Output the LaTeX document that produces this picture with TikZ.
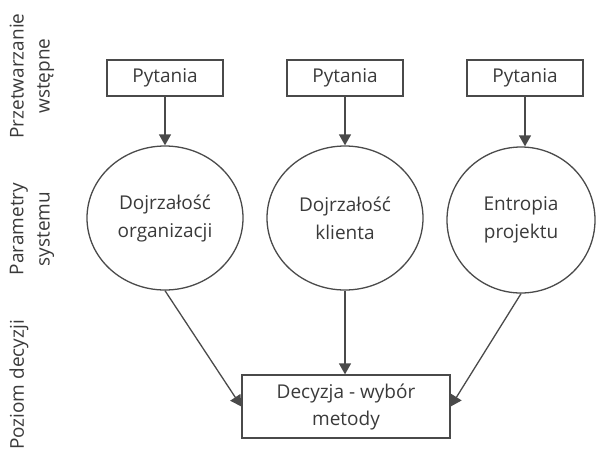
\documentclass[tikz,border=0pt]{standalone}
\usepackage{fontspec}
\setmainfont{Open Sans}
\usetikzlibrary{arrows.meta,shapes.geometric}
\definecolor{inkline}{HTML}{4A4A4A}
\definecolor{inktext}{HTML}{3A3A3A}
\tikzset{
  qbox/.style={draw=inkline, line width=1.3pt, minimum width=116pt, minimum height=36pt,
    inner sep=0pt, text=inktext, font=\fontsize{19}{24}\selectfont},
  param/.style={draw=inkline, line width=1.3pt, ellipse, minimum width=156pt, minimum height=144pt,
    inner sep=0pt, align=center, text=inktext, font=\fontsize{19}{28}\selectfont},
  decbox/.style={draw=inkline, line width=1.3pt, minimum width=208pt, minimum height=63pt,
    inner sep=0pt, align=center, text=inktext, font=\fontsize{19}{27}\selectfont},
  level/.style={rotate=90, align=center, text=inktext, inner sep=0pt, font=\fontsize{19}{26}\selectfont},
  flow/.style={draw=inkline, line width=1.3pt, -{Triangle[width=12pt,length=11pt]}}
}
\begin{document}
\begin{tikzpicture}[x=1pt, y=-1pt]
\useasboundingbox (0,0) rectangle (596,456);

% level labels on the left
\node[level] (lpre) at (32,76) {Przetwarzanie\\wstępne};
\node[level] (lpar) at (32,229) {Parametry\\systemu};
\node[level] (ldec) at (19,385) {Poziom decyzji};

% question boxes
\node[qbox] (q1) at (165,78) {Pytania};
\node[qbox] (q2) at (345,78) {Pytania};
\node[qbox] (q3) at (525,78) {Pytania};

% system parameters
\node[param] (p1) at (165,218) {Dojrzałość\\organizacji};
\node[param] (p2) at (345,218) {Dojrzałość\\klienta};
\node[param] (p3) at (521,220) [minimum width=148pt, minimum height=146pt] {Entropia\\projektu};

% decision
\node[decbox] (dec) at (346,406.5) {Decyzja - wybór\\metody};

% connectors
\draw[flow] (q1.south) -- (p1.north);
\draw[flow] (q2.south) -- (p2.north);
\draw[flow] (q3.south) -- (p3.north -| q3.south);
\draw[flow] (p1.south) -- (dec.west);
\draw[flow] (p2.south) -- (dec.north -| p2.south);
\draw[flow] (p3.south) -- (dec.east);
\end{tikzpicture}
\end{document}
